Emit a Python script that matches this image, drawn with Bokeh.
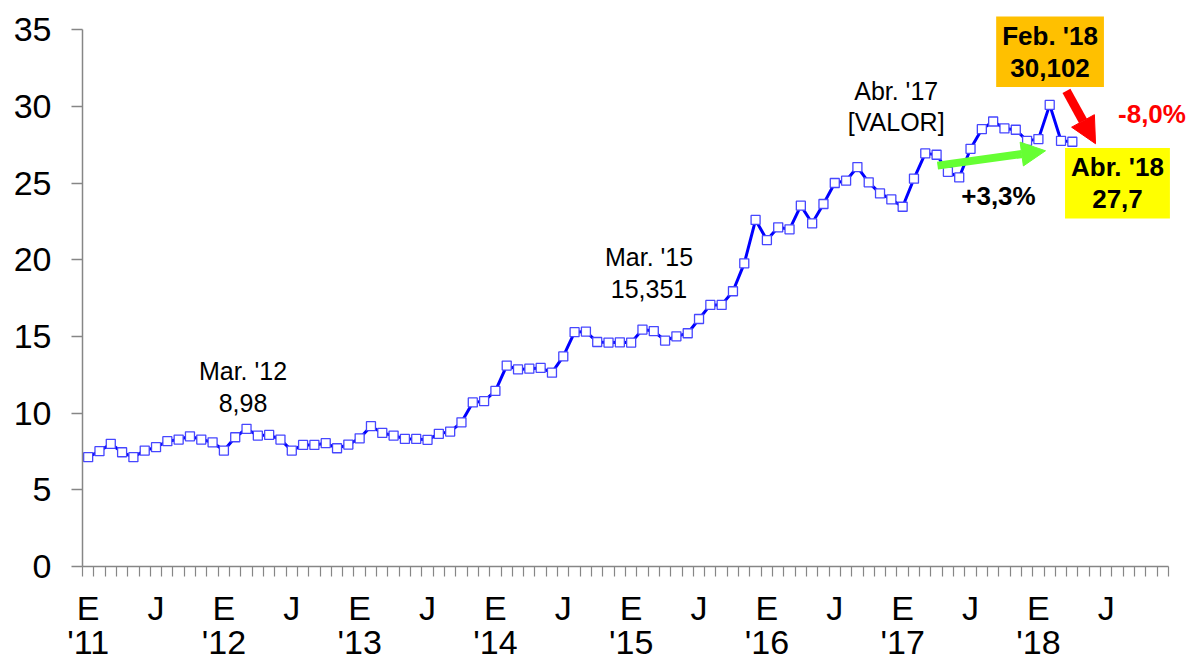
from bokeh.plotting import figure
from bokeh.models import FixedTicker, LinearAxis, Label, Arrow, NormalHead, ColumnDataSource
from bokeh.embed import file_html
from bokeh.resources import INLINE

# ---- data (monthly values, Jan 2011 - Apr 2018) ----
values_2011 = [7.13, 7.52, 8.00, 7.45, 7.13, 7.56, 7.78, 8.17, 8.28, 8.49, 8.28, 8.10]
values_2012 = [7.56, 8.43, 8.98, 8.54, 8.58, 8.28, 7.56, 7.93, 7.93, 8.04, 7.71, 7.95]
values_2013 = [8.36, 9.15, 8.71, 8.54, 8.32, 8.32, 8.26, 8.65, 8.80, 9.40, 10.70, 10.78]
values_2014 = [11.45, 13.10, 12.85, 12.90, 12.95, 12.64, 13.70, 15.28, 15.32, 14.64, 14.60, 14.62]
values_2015 = [14.60, 15.45, 15.351, 14.73, 15.01, 15.21, 16.14, 17.06, 17.06, 17.95, 19.77, 22.60]
values_2016 = [21.29, 22.12, 21.99, 23.53, 22.38, 23.64, 25.01, 25.16, 26.05, 25.05, 24.33, 23.94]
values_2017 = [23.46, 25.29, 26.94, 26.85, 25.74, 25.37, 27.24, 28.52, 29.02, 28.57, 28.48, 27.76]
values_2018 = [27.87, 30.102, 27.76, 27.70]

values = (values_2011 + values_2012 + values_2013 + values_2014 +
          values_2015 + values_2016 + values_2017 + values_2018)
month_index = list(range(len(values)))

month_tick_labels = ["E", "J"]
year_tick_labels = ["'11", "'12", "'13", "'14", "'15", "'16", "'17", "'18"]
y_ticks = [0, 5, 10, 15, 20, 25, 30, 35]
n_months = 96
y_max = 35

FONT = "Liberation Sans"
AXIS_GRAY = "#868686"

# frame extends to the top/right edges so the callouts are not clipped;
# axis bounds keep the drawn axes at the chart's real extent
p = figure(width=1187, height=664,
           x_range=(-0.5, 97.18), y_range=(0, 36.91),
           output_backend="svg", toolbar_location=None,
           min_border_left=82, min_border_right=0,
           min_border_top=0, min_border_bottom=98)
p.outline_line_color = None
p.xgrid.visible = False
p.ygrid.visible = False
p.background_fill_color = "white"
p.border_fill_color = "white"

# x axis: month letters centred in categories, minor ticks at boundaries
xa = p.xaxis[0]
major = list(range(0, n_months, 6))
xa.bounds = (-0.5, n_months - 0.5)
xa.ticker = FixedTicker(ticks=major, minor_ticks=[k - 0.5 for k in range(n_months + 1)])
xa.major_label_overrides = {m: month_tick_labels[(m // 6) % 2] for m in major}
xa.axis_line_color = AXIS_GRAY
xa.axis_line_width = 1.5
xa.major_tick_line_color = None
xa.major_tick_out = 10
xa.major_tick_in = 0
xa.minor_tick_line_color = AXIS_GRAY
xa.minor_tick_line_width = 1.2
xa.minor_tick_out = 10
xa.minor_tick_in = 0
xa.major_label_standoff = 12
xa.major_label_text_font = FONT
xa.major_label_text_font_size = "34px"
xa.major_label_text_color = "black"

# second row of x labels: years
years = list(range(0, len(year_tick_labels) * 12, 12))
yr_axis = LinearAxis(ticker=FixedTicker(ticks=years),
                     major_label_overrides={t: year_tick_labels[i] for i, t in enumerate(years)},
                     axis_line_color=None, major_tick_line_color=None,
                     minor_tick_line_color=None, major_tick_out=0, major_tick_in=0,
                     major_label_standoff=-7, major_label_text_font=FONT,
                     major_label_text_font_size="34px", major_label_text_color="black")
p.add_layout(yr_axis, "below")

# y axis
ya = p.yaxis[0]
ya.bounds = (0, y_max)
ya.ticker = FixedTicker(ticks=y_ticks)
ya.axis_line_color = AXIS_GRAY
ya.axis_line_width = 1.5
ya.major_tick_line_color = AXIS_GRAY
ya.major_tick_line_width = 1.5
ya.major_tick_out = 11
ya.major_tick_in = 0
ya.minor_tick_line_color = None
ya.major_label_standoff = 20
ya.major_label_text_font = FONT
ya.major_label_text_font_size = "34px"
ya.major_label_text_color = "black"

src = ColumnDataSource(data=dict(x=month_index, y=values))
p.line("x", "y", source=src, line_color="#0000FF", line_width=3)
p.scatter("x", "y", source=src, marker="square", size=9,
          fill_color="white", line_color="#4646FF", line_width=1.3)

# ---- annotations ----
def add_label(x, y, text, size="25px", style="normal", color="black",
              bg=None, lh=1.2, pad=None):
    kw = {}
    if bg is not None:
        kw["background_fill_color"] = bg
        kw["padding"] = pad
    p.add_layout(Label(x=x, y=y, text=text, text_font=FONT, text_font_size=size,
                       text_font_style=style, text_color=color,
                       text_align="center", text_baseline="middle",
                       text_line_height=lh, **kw))

add_label(13.69, 12.77, "Mar. '12")
add_label(13.69, 10.69, "8,98")
add_label(49.58, 20.20, "Mar. '15")
add_label(49.58, 18.12, "15,351")
add_label(71.43, 31.02, "Abr. '17")
add_label(71.43, 29.00, "[VALOR]")
add_label(85.03, 33.57, "Feb. '18\n30,102", size="26px", style="bold",
          bg="#FFC000", lh=1.08, pad=dict(left=6, right=6, top=4, bottom=4))
add_label(90.99, 24.99, "Abr. '18\n27,7", size="26px", style="bold",
          bg="#FFFF00", lh=1.08, pad=dict(left=6, right=6, top=4, bottom=4))
add_label(94.04, 29.52, "-8,0%", size="26px", style="bold", color="#FF0000")
add_label(80.47, 24.18, "+3,3%", size="26px", style="bold")

GREEN = "#66FF33"
p.add_layout(Arrow(end=NormalHead(size=24, fill_color=GREEN, line_color=GREEN),
                   x_start=75.08, y_start=26.14, x_end=84.63, y_end=27.11,
                   line_color=GREEN, line_width=8))
RED = "#FF0000"
p.add_layout(Arrow(end=NormalHead(size=26, fill_color=RED, line_color=RED),
                   x_start=86.48, y_start=31.02, x_end=89.05, y_end=27.57,
                   line_color=RED, line_width=9))

open("out.html", "w").write(file_html(p, INLINE))
